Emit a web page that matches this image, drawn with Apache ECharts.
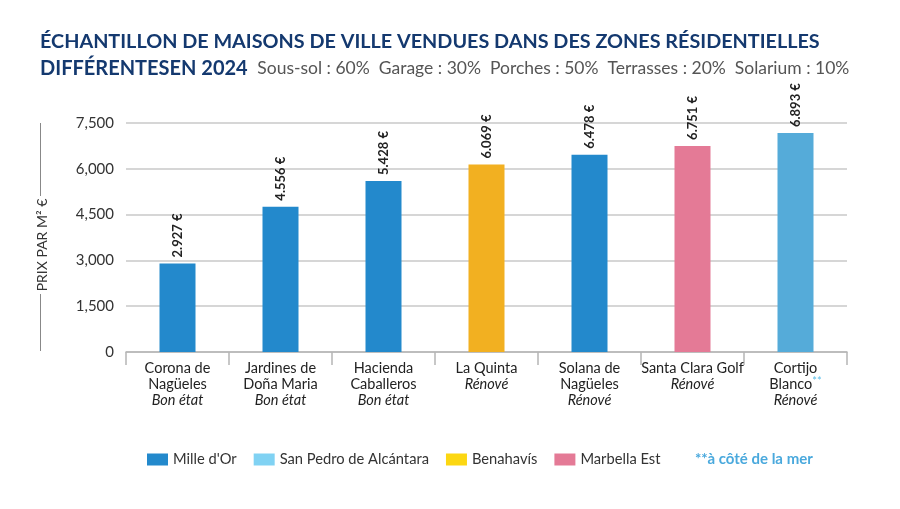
<!DOCTYPE html>
<html><head><meta charset="utf-8">
<script src="https://cdn.jsdelivr.net/npm/echarts@6/dist/echarts.min.js"></script>
<style>html,body{margin:0;padding:0;background:#fff}#c{width:900px;height:509px}</style>
</head><body><div id="c"></div>
<script>
var categories = ["Corona de\nNagüeles", "Jardines de\nDoña Maria", "Hacienda\nCaballeros", "La Quinta", "Solana de\nNagüeles", "Santa Clara Golf", "Cortijo\nBlanco{s|**}"];
var conditions = ["Bon état", "Bon état", "Bon état", "Rénové", "Rénové", "Rénové", "Rénové"];
var values = [2900, 4760, 5600, 6140, 6460, 6750, 7170];
var valueLabels = ["2.927 €", "4.556 €", "5.428 €", "6.069 €", "6.478 €", "6.751 €", "6.893 €"];
var regionOf = ["Mille d'Or", "Mille d'Or", "Mille d'Or", "Benahavís", "Mille d'Or", "Marbella Est", "San Pedro de Alcántara"];
var regions = ["Mille d'Or", "San Pedro de Alcántara", "Benahavís", "Marbella Est"];
var legendColors = ["#2389cc", "#80d2f3", "#fcd712", "#e47a96"];
var barColors = ["#2389cc", "#55abd9", "#f2b021", "#e47a96"];
var yTicks = [0, 1500, 3000, 4500, 6000, 7500];

var FONT = "Lato";
var chart = echarts.init(document.getElementById('c'), null, {renderer: 'canvas'});

var series = regions.map(function (r, ri) {
  return {
    name: r,
    type: 'bar',
    stack: 'all',
    barWidth: 36,
    itemStyle: {color: legendColors[ri]},
    data: values.map(function (v, i) {
      return regionOf[i] === r ? {value: v, itemStyle: {color: barColors[ri]}} : '-';
    }),
    label: {
      show: true,
      position: 'top',
      rotate: 90,
      align: 'left',
      verticalAlign: 'middle',
      distance: 6,
      fontFamily: FONT,
      fontWeight: 'bold',
      fontSize: 13,
      color: '#222',
      formatter: function (p) { return valueLabels[p.dataIndex]; }
    }
  };
});

chart.setOption({
  animation: false,
  textStyle: {fontFamily: FONT},
  title: {
    left: 40, top: 28, padding: 0,
    text: "ÉCHANTILLON DE MAISONS DE VILLE VENDUES DANS DES ZONES RÉSIDENTIELLES\n{b|DIFFÉRENTESEN 2024}  {s|Sous-sol : 60%  Garage : 30%  Porches : 50%  Terrasses : 20%  Solarium : 10%}",
    textStyle: {
      fontFamily: FONT, fontWeight: 'bold', fontSize: 19.8, color: '#14396f', lineHeight: 27,
      rich: {
        b: {fontFamily: FONT, fontWeight: 'bold', fontSize: 20, color: '#14396f', lineHeight: 27},
        s: {fontFamily: FONT, fontWeight: 'normal', fontSize: 17.5, color: '#555', lineHeight: 27}
      }
    }
  },
  legend: {
    data: regions,
    left: 147, top: 452, padding: 0,
    itemWidth: 21, itemHeight: 12, itemGap: 17,
    icon: 'rect',
    textStyle: {fontFamily: FONT, fontSize: 14.7, color: '#333'}
  },
  grid: {left: 126, right: 53, top: 123, bottom: 157},
  xAxis: {
    type: 'category',
    data: categories,
    axisLine: {lineStyle: {color: '#b5b5b5', width: 1.5}},
    axisTick: {show: true, length: 13, lineStyle: {color: '#b5b5b5', width: 1.5}},
    axisLabel: {
      interval: 0, margin: 8,
      fontFamily: FONT, fontSize: 14.5, color: '#222', lineHeight: 16,
      formatter: function (v, i) { return v + '\n{i|' + conditions[i] + '}'; },
      rich: {
        i: {fontFamily: FONT, fontStyle: 'italic', fontSize: 14.5, color: '#222', lineHeight: 16},
        s: {fontFamily: FONT, fontSize: 11, color: '#5bbde8', lineHeight: 16, verticalAlign: 'top'}
      }
    }
  },
  yAxis: {
    type: 'value',
    min: yTicks[0], max: yTicks[yTicks.length - 1], interval: 1500,
    axisLine: {show: false},
    axisTick: {show: false},
    axisLabel: {
      margin: 12, fontFamily: FONT, fontSize: 15, color: '#333',
      formatter: function (v) { return v.toLocaleString('en-US'); }
    },
    splitLine: {lineStyle: {color: '#c8c8c8', width: 1.5}}
  },
  graphic: [
    {type: 'line', shape: {x1: 40.5, y1: 123, x2: 40.5, y2: 196}, style: {stroke: '#888', lineWidth: 1}},
    {type: 'line', shape: {x1: 40.5, y1: 294, x2: 40.5, y2: 351}, style: {stroke: '#888', lineWidth: 1}},
    {type: 'text', x: 42, y: 245, rotation: Math.PI / 2,
     style: {text: 'PRIX PAR M² €', fill: '#333', font: '14px ' + FONT, textAlign: 'center', textVerticalAlign: 'middle'}},
    {type: 'text', left: 695, top: 452, style: {text: '**à côté de la mer', fill: '#4aa9dd', font: 'bold 15px ' + FONT}}
  ],
  series: series
});
</script></body></html>
